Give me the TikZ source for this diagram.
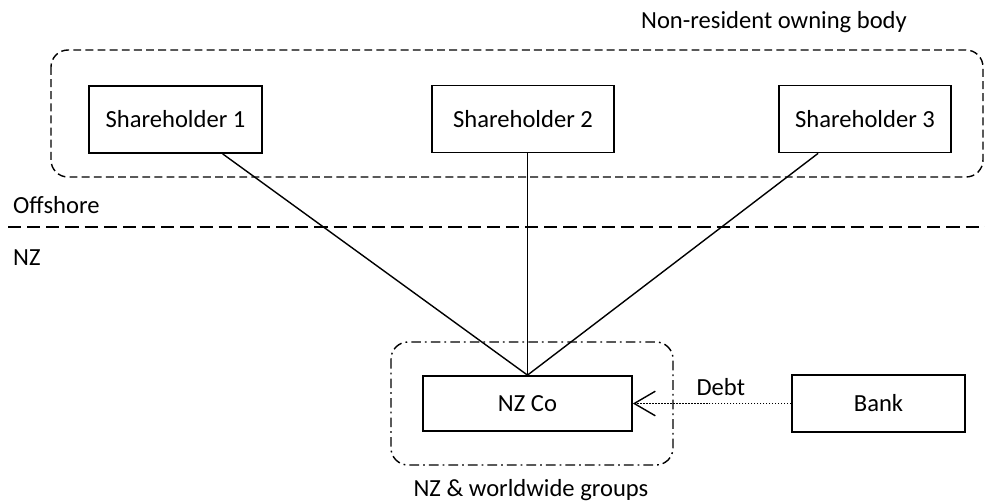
\documentclass[tikz,border=0pt]{standalone}
\usepackage{fontspec}
\setmainfont{Carlito}
\usetikzlibrary{calc,arrows.meta}

\begin{document}
\begin{tikzpicture}[x=0.02cm, y=-0.02cm,
  font=\fontsize{14}{17}\selectfont,
  party/.style={draw, line width=1pt, inner sep=0pt, minimum height=1.34cm},
  group/.style={line width=0.8pt, rounded corners=0.34cm},
  link/.style={line width=0.8pt}]
\useasboundingbox (0,0) rectangle (985,504);

% owners offshore
\draw[group, dash pattern=on 4.5pt off 2.4pt] (51,50) rectangle (983,177);
\node (owners) at (774,22) {Non-resident owning body};
\node[party, minimum width=3.46cm] (sh1) at (175.5,119.5) {Shareholder 1};
\node[party, minimum width=3.64cm] (sh2) at (523,119) {Shareholder 2};
\node[party, minimum width=3.44cm] (sh3) at (865,119) {Shareholder 3};

% border
\draw[line width=0.8pt, dash pattern=on 7.5pt off 3.4pt] (8,227) -- (985,227);
\node[anchor=west] (off) at (7,205) {Offshore};
\node[anchor=west] (nz) at (7,258) {NZ};

% NZ side
\draw[group, dash pattern=on 5.5pt off 2.3pt on 1pt off 2.3pt] (391,342) rectangle (673,465);
\node (groups) at (531,490) {NZ \& worldwide groups};
\node[party, minimum width=4.18cm, minimum height=1.1cm] (nzco) at (527.5,403.5) {NZ Co};
\node[party, minimum width=3.46cm, minimum height=1.14cm] (bank) at (878.5,403.5) {Bank};

\draw[link] ($(sh1.south west)!0.77!(sh1.south east)$) -- (nzco.north);
\draw[link] (sh2.south -| nzco.north) -- (nzco.north);
\draw[link] ($(sh3.south west)!0.23!(sh3.south east)$) -- (nzco.north);
\draw[link, dash pattern=on 0.8pt off 0.9pt, -{Straight Barb[length=12pt, width=14pt, line width=0.8pt]}]
  (bank) -- node[above=1pt, xshift=5pt] (debt) {Debt} (nzco);
\end{tikzpicture}
\end{document}
